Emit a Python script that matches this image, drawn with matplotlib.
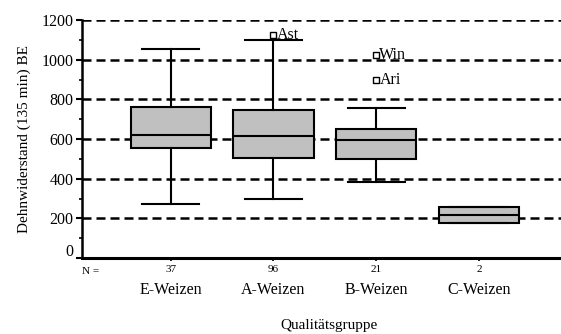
import matplotlib
matplotlib.use("Agg")
import matplotlib.pyplot as plt
from matplotlib.transforms import ScaledTranslation

categories = ["E-Weizen", "A-Weizen", "B-Weizen", "C-Weizen"]
counts = [37, 96, 21, 2]
q1 = [555, 504, 501, 178]
median = [622, 614, 593, 218]
q3 = [763, 745, 652, 259]
whislo = [271, 299, 382, 178]
whishi = [1055, 1098, 755, 259]
outlier_group = ["A-Weizen", "B-Weizen", "B-Weizen"]
outlier_value = [1125, 1024, 898]
outlier_label = ["Ast", "Win", "Ari"]
yticks = [0, 200, 400, 600, 800, 1000, 1200]

plt.rcParams['font.family'] = ['Liberation Serif', 'DejaVu Serif']

fig = plt.figure(figsize=(5.61, 3.34), dpi=100)
ax = fig.add_axes([82/561, 1-258/334, 1-82/561, (258-20)/334])

stats = []
for i, c in enumerate(categories):
    stats.append(dict(label=c, q1=q1[i], med=median[i], q3=q3[i],
                      whislo=whislo[i], whishi=whishi[i], fliers=[]))
pos = [1, 2, 3, 4]
ax.bxp(stats, positions=pos, widths=0.78, patch_artist=True, showfliers=False,
       boxprops=dict(facecolor='#c0c0c0', edgecolor='black', linewidth=1.5),
       medianprops=dict(color='black', linewidth=1.5),
       whiskerprops=dict(color='black', linewidth=1.5),
       capprops=dict(color='black', linewidth=1.5), capwidths=0.56, zorder=3)

for g, v, lab in zip(outlier_group, outlier_value, outlier_label):
    x = pos[categories.index(g)]
    ax.plot(x, v, marker='s', ms=4.5, mfc='white', mec='black', mew=1.0, zorder=5)
    ax.text(x + 0.03, v, lab, fontsize=11.5, va='center', ha='left', zorder=6)

for y in yticks[1:]:
    ax.axhline(y, color='black', lw=1.8, dashes=(3.6, 2.0), zorder=1)

ax.set_xlim(0.137, 4.797)
ax.set_ylim(0, 1200)
ax.set_yticks(yticks)
ax.set_yticks(range(100, 1200, 200), minor=True)
ax.tick_params(axis='y', which='major', length=4, width=1.5, labelsize=11.5, pad=2)
ax.tick_params(axis='y', which='minor', length=2.5, width=1.2)
ax.set_yticklabels([str(t) for t in yticks])
lbl0 = ax.get_yticklabels()[0]
lbl0.set_transform(lbl0.get_transform() + ScaledTranslation(0, 6/72, fig.dpi_scale_trans))

ax.set_xticks(pos)
ax.set_xticklabels([f"{n}" for n in counts], fontsize=8)
ax.tick_params(axis='x', length=2, width=1.2, pad=3)
for p, c in zip(pos, categories):
    ax.text(p, -0.135, c, transform=ax.get_xaxis_transform(), ha='center', va='center', fontsize=11.5)
ax.text(0, -0.055, "N =", transform=ax.transAxes, ha='left', va='center', fontsize=8)

for s in ['top', 'right']:
    ax.spines[s].set_visible(False)
ax.spines['left'].set_linewidth(1.8)
ax.spines['bottom'].set_linewidth(2.2)

ax.set_ylabel("Dehnwiderstand (135 min) BE", fontsize=11, labelpad=8)
fig.text(329/561, 1-325/334, "Qualitätsgruppe", ha='center', va='center', fontsize=11)

fig.savefig("out.png", dpi=100)
